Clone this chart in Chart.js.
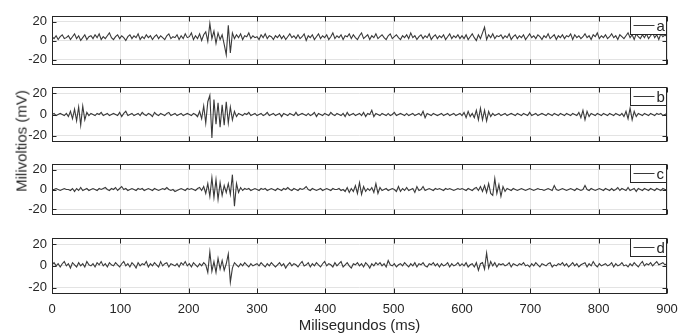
<!DOCTYPE html>
<html lang="es">
<head>
<meta charset="UTF-8">
<title>Milivoltios (mV) - Milisegundos (ms)</title>
<script src="https://cdn.jsdelivr.net/npm/chart.js"></script>
<style>
  body { margin: 0; background: #fff; }
  #wrap { position: relative; width: 692px; height: 336px; font-family: "Liberation Sans", Arial, sans-serif; }
  #wrap canvas { position: absolute; left: 0; }
  #ylabel {
    position: absolute; left: 21px; top: 141px;
    transform: translate(-50%, -50%) rotate(-90deg);
    font-size: 15px; color: #262626; white-space: nowrap;
  }
</style>
</head>
<body>
<div id="wrap">
  <canvas id="panelA"></canvas>
  <canvas id="panelB"></canvas>
  <canvas id="panelC"></canvas>
  <canvas id="panelD"></canvas>
  <div id="ylabel">Milivoltios (mV)</div>
</div>
<script>
// one sample every 3 ms, 0..900 ms
const sampleStepMs = 3;
const seriesLabels = ['a', 'b', 'c', 'd'];
const xTickValues = [0, 100, 200, 300, 400, 500, 600, 700, 800, 900];
const yTickValues = [-20, 0, 20];
const xTitle = 'Milisegundos (ms)';

const seriesA = [
  4,2,5,1,4,6,2,3,5,1, 4,7,2,5,0,3,6,1,4,5, 2,6,3,7,1,4,2,5,8,3,
  1,4,6,2,5,3,0,4,6,2, 5,3,7,1,4,2,6,3,5,1, 4,6,2,5,3,1,5,7,2,4,
  3,6,1,5,2,7,3,4,8,1, 5,2,7,0,6,9,-1,18,2,10, -3,8,1,6,-4,-15,16,-13,8,2,
  6,3,7,1,5,4,8,2,5,3, 4,1,6,3,7,2,5,4,1,5, 3,6,2,5,1,4,7,3,5,2,
  6,2,4,7,0,5,3,6,1,4, 7,2,5,3,6,1,4,8,2,5, 3,6,1,5,4,7,2,6,3,1,
  5,8,2,4,6,1,5,3,7,2, 4,6,3,1,5,7,2,4,6,3, 1,5,3,6,2,8,3,5,1,4,
  6,2,5,3,7,1,4,6,2,5, 3,6,1,4,7,2,5,3,6,2, 5,2,6,1,4,7,3,0,6,2,
  8,14,1,6,3,7,2,5,4,6, 2,5,3,7,1,4,6,2,5,3, 6,1,4,7,3,5,2,6,4,1,
  5,3,7,2,4,6,1,5,3,6, 2,5,4,7,1,6,3,5,2,4, 7,3,5,1,6,4,8,2,5,3,
  6,2,4,7,3,5,1,6,4,2, 5,8,3,6,1,7,4,2,6,3, 7,2,5,8,3,6,1,7,4,6,
  4
];
const seriesB = [
  0,1,-1,0,1,0,-1,1,-2,3, -4,5,-6,7,-10,8,-5,2,-1,1, 0,-1,1,0,2,-1,0,1,-1,0,
  1,0,-1,2,-2,1,3,-1,0,1, -1,0,1,-1,2,0,-1,1,0,-2, 2,0,-1,1,0,-1,1,2,-1,0,
  1,-1,0,1,-1,0,1,0,-1,1, 0,-2,3,-4,8,-8,12,18,-22,14, -9,11,-12,9,-10,12,-8,7,-5,3,
  -2,1,0,-1,1,0,2,-1,0,1, -1,0,1,-1,0,2,-1,0,1,-1, 0,1,-2,1,0,-1,1,0,-1,2,
  -1,0,1,0,-1,1,-1,0,2,-2, 1,0,-1,1,0,-1,2,0,-1,1, 0,-1,1,-2,2,-1,0,1,-1,0,
  1,-1,2,-2,1,0,4,-2,1,0, -1,1,0,-1,1,-1,0,2,-1,0, 1,0,-1,1,-1,0,1,-1,0,1,
  -1,3,-3,1,0,-1,1,0,-1,0, 1,-1,0,1,-1,0,1,-1,0,1, -1,2,-3,3,-2,1,-3,4,-5,6,
  -5,4,-6,3,-2,1,-1,0,1,-1, 0,1,-1,0,1,0,-1,1,0,-1, 1,0,-1,2,-1,0,1,-1,0,1,
  0,-1,1,0,-1,1,0,-1,1,0, -1,1,0,-1,1,0,-1,2,-3,4, -5,3,-2,1,0,-1,1,0,-1,1,
  0,-1,1,0,-1,1,0,-1,1,-2, 3,-4,6,-5,3,-2,1,0,-1,1, 0,-1,1,0,-1,1,0,1,-1,0,
  1
];
const seriesC = [
  0,0,1,0,-1,0,1,0,0,-1, 1,-2,1,-1,2,-1,0,1,-1,0, 1,0,-1,1,0,1,2,0,-1,1,
  0,2,-1,1,3,0,1,-1,0,1, 0,-1,1,0,1,-1,0,1,0,-1, 1,0,-1,0,1,0,2,0,-1,0,
  -2,-1,0,1,0,-1,1,0,1,0, -1,1,2,-1,3,-4,6,-7,12,-8, 10,-10,7,-6,4,-3,6,-5,15,-17,
  6,-3,2,-1,1,0,1,-1,0,1, 0,-1,1,0,1,-1,0,1,0,-1, 1,0,-1,1,0,2,0,-1,1,0,
  -1,1,0,1,3,0,-1,1,0,-1, 0,1,-1,0,1,0,-1,1,0,0, 1,-1,0,-2,2,-3,1,-2,4,-4,
  7,-5,3,-2,1,-1,2,-3,6,-4, 2,-1,0,1,-1,0,1,0,-2,3, -2,1,-1,2,-1,0,1,-3,3,-1,
  0,3,-1,0,1,0,-1,1,0,1, 0,-1,1,0,1,0,-1,0,1,0, 1,0,-1,1,0,-1,1,2,-1,3,
  -2,4,-3,6,-4,-6,11,-4,5,-7, 3,-2,1,0,-1,1,0,-1,0,1, 0,-1,0,1,0,-1,0,1,0,0,
  -1,0,1,0,-1,4,0,-1,0,1, 0,-1,0,1,0,-1,1,0,-1,0, 4,0,-1,1,0,-1,0,1,0,-1,
  1,0,-1,1,-1,0,2,-1,1,0, -1,2,-1,0,1,-2,1,0,-1,1, 0,-1,1,0,-1,1,0,-1,1,0,
  0
];
const seriesD = [
  1,3,0,2,-1,2,4,0,2,-2, 3,1,-1,3,0,2,-1,4,1,0, 2,-1,3,1,4,0,2,-1,3,1,
  0,3,1,-1,2,4,0,2,-1,3, 1,-2,3,0,2,1,4,-1,2,0, 3,1,-1,4,0,2,3,-1,2,1,
  0,2,-1,3,1,4,0,2,-1,3, 1,-1,2,0,3,1,-6,13,-5,4, -6,7,-3,5,-4,2,11,-15,-2,3,
  1,-1,2,0,3,1,-1,2,0,1, 2,0,3,1,-1,2,0,3,1,-1, 1,3,0,2,-2,1,3,0,2,1,
  -1,2,4,0,1,3,-1,2,0,3, 1,-1,2,4,0,2,1,-1,3,0, 2,4,-1,1,3,0,-2,2,1,3,
  0,2,-1,3,1,-2,2,0,3,1, 3,0,2,-1,5,1,0,2,-1,1, 2,0,3,1,-1,2,0,3,-1,2,
  1,3,0,-1,2,1,3,0,2,-1, 2,0,1,3,-1,2,0,1,3,0, 2,0,3,-1,1,2,-1,3,-4,2,
  3,-3,12,-2,4,0,3,-1,2,1, 2,0,1,3,-1,2,1,0,2,1, 3,0,1,-1,2,0,3,1,-1,2,
  1,0,2,3,-1,1,0,2,1,3, 0,2,-1,1,3,0,2,-1,1,2, 3,-1,2,0,4,1,-1,2,0,1,
  2,0,1,3,-1,2,0,1,3,0, 1,-1,2,0,3,1,-1,2,4,0, 2,1,3,0,2,4,1,2,3,1,
  2
];

const allSeries = [seriesA, seriesB, seriesC, seriesD];
const timeMs = seriesA.map((_, i) => i * sampleStepMs);

// plot area of each panel in the page (top, bottom)
const panels = [
  { id: 'panelA', top: 11, bottom: 70 },
  { id: 'panelB', top: 82, bottom: 147 },
  { id: 'panelC', top: 159, bottom: 220 },
  { id: 'panelD', top: 233, bottom: 294 }
];

const W = 692, LEFT = 52, RIGHT = 667, PAD = 8;
const lineColor = '#3a3a3a';
const frameColor = '#262626';

// MATLAB style box, inward ticks and boxed legend
const framePlugin = {
  id: 'frame',
  afterDraw(chart) {
    const { ctx, chartArea: a, scales } = chart;
    const l = Math.round(a.left) + 0.5, r = Math.round(a.right) - 0.5;
    const t = Math.round(a.top) + 0.5, b = Math.round(a.bottom) - 0.5;
    ctx.save();
    ctx.strokeStyle = frameColor;
    ctx.lineWidth = 1;
    ctx.beginPath();
    xTickValues.forEach(v => {
      const px = Math.round(scales.x.getPixelForValue(v)) + 0.5;
      ctx.moveTo(px, b); ctx.lineTo(px, b - 5);
      ctx.moveTo(px, t); ctx.lineTo(px, t + 5);
    });
    yTickValues.forEach(v => {
      const py = Math.round(scales.y.getPixelForValue(v)) + 0.5;
      ctx.moveTo(l, py); ctx.lineTo(l + 4, py);
      ctx.moveTo(r, py); ctx.lineTo(r - 4, py);
    });
    ctx.stroke();
    ctx.strokeRect(l, t, r - l, b - t);

    // legend
    const ds = chart.data.datasets[0];
    const bw = 36, bh = 18;
    const bx = r - bw, by = t;
    ctx.fillStyle = '#fff';
    ctx.fillRect(bx, by, bw, bh);
    ctx.strokeRect(bx, by, bw, bh);
    ctx.strokeStyle = ds.borderColor;
    ctx.beginPath();
    ctx.moveTo(bx + 3, by + bh / 2);
    ctx.lineTo(bx + 24, by + bh / 2);
    ctx.stroke();
    ctx.fillStyle = frameColor;
    ctx.font = '15px "Liberation Sans", Arial, sans-serif';
    ctx.textBaseline = 'middle';
    ctx.fillText(ds.label, bx + 26, by + bh / 2 + 1);
    ctx.restore();
  }
};

panels.forEach((p, k) => {
  const last = k === panels.length - 1;
  const canvas = document.getElementById(p.id);
  const top = p.top - PAD;
  const height = last ? 336 - top : (p.bottom - p.top) + 2 * PAD;
  canvas.width = W;
  canvas.height = height;
  canvas.style.top = top + 'px';

  new Chart(canvas.getContext('2d'), {
    type: 'line',
    data: {
      datasets: [{
        label: seriesLabels[k],
        data: allSeries[k].map((v, i) => ({ x: timeMs[i], y: v })),
        borderColor: lineColor,
        borderWidth: 1.1,
        pointRadius: 0,
        tension: 0,
        fill: false
      }]
    },
    options: {
      responsive: false,
      animation: false,
      events: [],
      layout: { padding: { left: 0, right: W - RIGHT, top: PAD, bottom: last ? 0 : PAD } },
      plugins: { legend: { display: false }, tooltip: { enabled: false } },
      scales: {
        x: {
          type: 'linear',
          min: 0, max: 900,
          afterBuildTicks: s => { s.ticks = xTickValues.map(v => ({ value: v })); },
          afterFit: s => { s.height = last ? 336 - p.bottom : 0; },
          grid: { color: '#e3e3e3', drawTicks: false },
          border: { display: false },
          ticks: {
            display: last,
            padding: 8,
            color: frameColor,
            font: { family: '"Liberation Sans", Arial, sans-serif', size: 13 },
            maxRotation: 0
          },
          title: {
            display: last,
            text: xTitle,
            color: frameColor,
            padding: { top: 0, bottom: 1 },
            font: { family: '"Liberation Sans", Arial, sans-serif', size: 15 }
          }
        },
        y: {
          min: -26, max: 26,
          afterBuildTicks: s => { s.ticks = yTickValues.map(v => ({ value: v })); },
          afterFit: s => { s.width = LEFT; },
          grid: { color: '#e3e3e3', drawTicks: false },
          border: { display: false },
          ticks: {
            padding: 5,
            color: frameColor,
            font: { family: '"Liberation Sans", Arial, sans-serif', size: 13 }
          }
        }
      }
    },
    plugins: [framePlugin]
  });
});
</script>
</body>
</html>
